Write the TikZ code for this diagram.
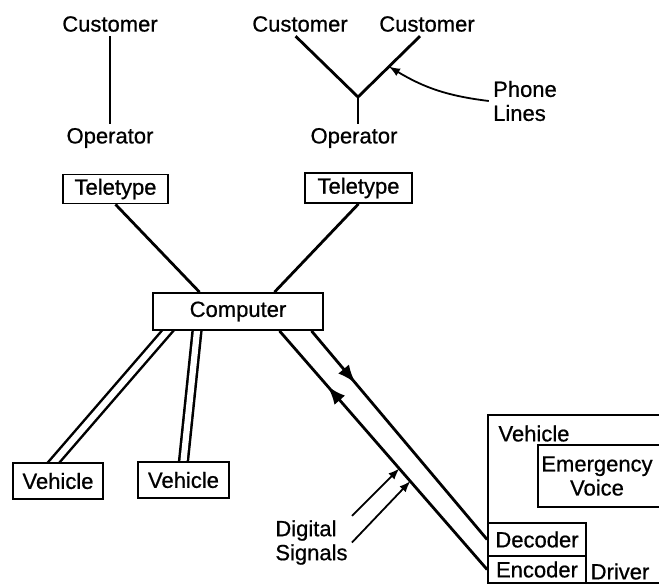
\documentclass[tikz,border=0pt]{standalone}
\usepackage{fontspec}
\setmainfont{Liberation Sans}[FakeBold=0.7]
\usetikzlibrary{decorations.markings,backgrounds}

\begin{document}
\begin{tikzpicture}[x=5pt,y=-5pt]
% Styles
\tikzstyle{texte}=[font=\fontsize{11}{12}\selectfont,inner sep=2pt]
\tikzstyle{boite}=[texte,draw,line width=0.9pt,fill=white,inner sep=1pt]
\tikzstyle{trait}=[line width=1.4pt]
\tikzstyle{liaison}=[double,double distance=3.1pt,line width=1.25pt,shorten <=-3pt,shorten >=-3pt]
\tikzstyle{fleche}=[->,>=latex,line width=0.9pt]
\tikzstyle{aller}=[postaction={decorate},decoration={markings,mark=at position 0.25 with {\arrow[scale=1.3]{latex}}}]
\tikzstyle{retour}=[postaction={decorate},decoration={markings,mark=at position 0.29 with {\arrow[scale=1.3]{latex reversed}}}]
% Cadre
\useasboundingbox (0,0) rectangle (65.9,58.5);
\clip (0,0) rectangle (65.9,58.5);
% Noeuds
\node[texte] (C1) at (11.0,2.4) {Customer};
\node[texte] (C2) at (30.0,2.4) {Customer};
\node[texte] (C3) at (42.7,2.4) {Customer};
\node[texte] (O1) at (11.0,13.8) {Operator};
\node[texte] (O2) at (35.4,13.8) {Operator};
\coordinate (Y) at (35.8,9.7);
\node[texte,align=left] (PL) at (52.5,10.1) {Phone\\Lines};
\node[boite,minimum width=52.5pt,minimum height=14.5pt] (TA) at (11.55,18.9) {Teletype};
\node[boite,minimum width=53.5pt,minimum height=15pt] (TB) at (35.85,18.8) {Teletype};
\node[boite,minimum width=85pt,minimum height=18.5pt] (CO) at (23.8,31.15) {Computer};
\node[boite,minimum width=45pt,minimum height=18pt] (V1) at (5.8,48.1) {Vehicle};
\node[boite,minimum width=45.5pt,minimum height=18pt] (V2) at (18.35,48.0) {Vehicle};
\node[texte,align=left,anchor=west] (DS) at (27.1,54.25) {Digital\\Signals};
% Vehicule avec codeur
\node[boite,minimum width=106pt,minimum height=84pt] (VE) at (59.4,49.9) {};
\node[texte] (VEt) at (53.4,43.35) {Vehicle};
\node[boite,minimum width=81pt,minimum height=31pt] (UR) at (61.9,47.6) {};
\node[texte,align=center] (URt) at (59.7,47.6) {Emergency\\Voice};
\node[boite,minimum width=49pt,minimum height=16.5pt] (DE) at (53.7,53.95) {Decoder};
\node[boite,minimum width=49pt,minimum height=13.5pt] (EN) at (53.7,56.95) {Encoder};
\node[texte] (DR) at (62.0,57.15) {Driver};
% Arcs
\begin{scope}[on background layer]
\draw[trait] (C1) -- (O1);
\draw[trait] (C2.250) -- (Y);
\draw[trait] (C3.240) -- (Y) coordinate[pos=0.5] (P);
\draw[trait] (Y) -- (Y |- O2.north);
\draw[trait] (TA.south) -- ([xshift=-19.25pt]CO.north);
\draw[trait] (TB.south) -- ([xshift=18.25pt]CO.north);
\draw[liaison] ([xshift=-35.25pt]CO.south) -- ([xshift=-2pt]V1.north);
\draw[liaison] ([xshift=-20.5pt]CO.south) -- (V2.north);
\draw[trait,aller] ([xshift=36.75pt]CO.south) -- (DE.west);
\draw[trait,retour] ([xshift=20.75pt]CO.south) -- (EN.west) coordinate[pos=0.577] (S1) coordinate[pos=0.63] (S2);
\end{scope}
\draw[fleche] (PL.west) to[bend left=12] (P);
\draw[fleche] (DS.north east) -- (S1);
\draw[fleche] (DS.east) -- (S2);
\end{tikzpicture}
\end{document}
